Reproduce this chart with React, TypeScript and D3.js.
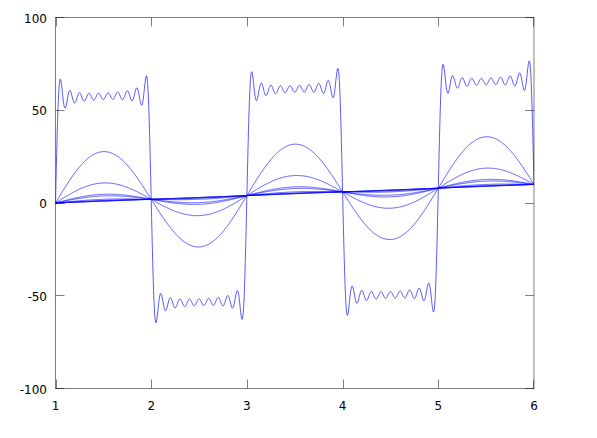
import React from "react";
import * as d3 from "d3";

// Axis ticks
const xTicks = [1, 2, 3, 4, 5, 6];
const yTicks = [-100, -50, 0, 50, 100];
const xDomain = [1, 6];
const yDomain = [-100, 100];

// Linear trend shared by all curves (value rises 2 per unit of x)
const trendSlope = 2;
// Amplitudes of the smooth (single-harmonic) curves
const smoothAmplitudes = [26.7, 9.8, 3.7, 2.8, 1.0, 0.4, 0.15, 0.05];
// Square-wave curve: plateau height and number of odd harmonics (ripple count)
const squareAmplitude = 56.5;
const squareHarmonics = 10;
const sampleCount = 1200;

const W = 597;
const H = 438;
const left = 55.5;
const right = 534;
const top = 17.5;
const bottom = 388.5;

export default function App() {
  const x = d3.scaleLinear().domain(xDomain).range([left, right]);
  const y = d3.scaleLinear().domain(yDomain).range([bottom, top]);

  const xs = d3.range(sampleCount + 1).map(
    (i) => xDomain[0] + ((xDomain[1] - xDomain[0]) * i) / sampleCount
  );
  const trend = (t: number) => trendSlope * (t - xDomain[0]);

  const series: [number, number][][] = [];
  smoothAmplitudes.forEach((a) => {
    series.push(xs.map((t) => [t, trend(t) + a * Math.sin(Math.PI * (t - 1))]));
  });
  series.push(
    xs.map((t) => {
      let s = 0;
      for (let k = 1; k <= squareHarmonics; k++) {
        const n = 2 * k - 1;
        s += Math.sin(n * Math.PI * (t - 1)) / n;
      }
      return [t, trend(t) + ((4 * squareAmplitude) / Math.PI) * s];
    })
  );
  // pure trend line
  series.push(xs.map((t) => [t, trend(t)]));

  const line = d3
    .line<[number, number]>()
    .x((d) => x(d[0]))
    .y((d) => y(d[1]));

  const axisStroke = "#000";
  const axisOpacity = 0.5;
  const tickLen = 9;
  const font = "'DejaVu Sans', sans-serif";

  return (
    <svg
      width={W}
      height={H}
      style={{ position: "absolute", left: 0, top: 0, background: "#fff" }}
    >
      <rect x={0} y={0} width={W} height={H} fill="#fff" />
      <defs>
        <clipPath id="plot">
          <rect x={left} y={top} width={right - left} height={bottom - top} />
        </clipPath>
      </defs>
      <g clipPath="url(#plot)">
        {series.map((s, i) => (
          <path key={i} d={line(s) || ""} fill="none" stroke="#0000ff" strokeWidth={0.9} strokeOpacity={0.72} />
        ))}
      </g>
      <g stroke={axisStroke} strokeOpacity={axisOpacity} strokeWidth={1} fill="none">
        <rect x={left} y={top} width={right - left} height={bottom - top} />
        {xTicks.map((t) => (
          <g key={"x" + t}>
            <line x1={Math.round(x(t)) + 0.5 - (t === 6 ? 1 : 0)} x2={Math.round(x(t)) + 0.5 - (t === 6 ? 1 : 0)} y1={bottom} y2={bottom - tickLen} />
            <line x1={Math.round(x(t)) + 0.5 - (t === 6 ? 1 : 0)} x2={Math.round(x(t)) + 0.5 - (t === 6 ? 1 : 0)} y1={top} y2={top + tickLen} />
          </g>
        ))}
        {yTicks.map((t) => (
          <g key={"y" + t}>
            <line x1={left} x2={left + tickLen} y1={Math.round(y(t) - 0.5) + 0.5} y2={Math.round(y(t) - 0.5) + 0.5} />
            <line x1={right} x2={right - tickLen} y1={Math.round(y(t) - 0.5) + 0.5} y2={Math.round(y(t) - 0.5) + 0.5} />
          </g>
        ))}
      </g>
      <g fontFamily={font} fontSize={12} fill="#000">
        {yTicks.map((t) => (
          <text key={"yl" + t} x={47} y={y(t) + 5} textAnchor="end">
            {t}
          </text>
        ))}
        {xTicks.map((t) => (
          <text key={"xl" + t} x={x(t)} y={409.5} textAnchor="middle">
            {t}
          </text>
        ))}
      </g>
    </svg>
  );
}
